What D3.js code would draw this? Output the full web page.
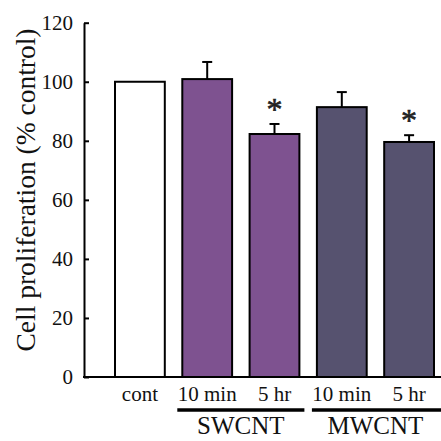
<!DOCTYPE html>
<html>
<head>
<meta charset="utf-8">
<script src="https://cdn.jsdelivr.net/npm/d3@7"></script>
<style>
  html, body { margin: 0; padding: 0; background: #fff; }
  svg { display: block; font-family: "Liberation Serif", "Times New Roman", serif; }
</style>
</head>
<body>
<div id="chart"></div>
<script>
// --- data -------------------------------------------------------------
var categories = ["cont", "sw10", "sw5", "mw10", "mw5"];
var tickNames  = ["cont", "10 min", "5 hr", "10 min", "5 hr"];
var groups     = ["ctrl", "SWCNT", "SWCNT", "MWCNT", "MWCNT"];
var values     = [100, 100.9, 82.3, 91.4, 79.6];
var errors     = [0, 5.8, 3.4, 5.1, 2.3];
var signif     = [false, false, true, false, true];
var yTicks     = [0, 20, 40, 60, 80, 100, 120];
var groupNames = ["SWCNT", "MWCNT"];

var W = 441, H = 441;
var FILL = { ctrl: "#ffffff", SWCNT: "#7e5290", MWCNT: "#56526f" };

var svg = d3.select("#chart").append("svg").attr("width", W).attr("height", H);

// --- scales -----------------------------------------------------------
var axisX = 84, baseY = 377, topY = 22.7;
var y = d3.scaleLinear().domain([0, 120]).range([baseY, topY]);
var x = d3.scaleBand().domain(categories).range([115, 434])
  .paddingInner(0.26).paddingOuter(0);

// --- axes -------------------------------------------------------------
var ya = svg.append("g").attr("transform", "translate(" + axisX + ",0)")
  .call(d3.axisLeft(y).tickValues(yTicks).tickSizeInner(-5).tickSizeOuter(0).tickPadding(11))
  .attr("font-family", null).attr("font-size", null);
ya.select(".domain").attr("stroke", "#000").attr("stroke-width", 2);
ya.selectAll(".tick line").attr("stroke", "#000").attr("stroke-width", 2);
ya.selectAll(".tick text").attr("fill", "#111")
  .style("font-family", "'Liberation Serif', serif")
  .style("font-size", "21px");

svg.append("line").attr("x1", axisX - 1).attr("x2", W)
  .attr("y1", baseY).attr("y2", baseY)
  .attr("stroke", "#000").attr("stroke-width", 2);

svg.append("text")
  .attr("transform", "translate(35," + 190 + ") rotate(-90)")
  .attr("text-anchor", "middle")
  .style("font-size", "27.5px").attr("fill", "#111")
  .text("Cell proliferation (% control)");

// --- bars -------------------------------------------------------------
var idx = d3.range(categories.length);
var bw = x.bandwidth();

svg.selectAll(".bar").data(idx).enter().append("rect")
  .attr("class", "bar")
  .attr("x", function (i) { return x(categories[i]); })
  .attr("width", bw)
  .attr("y", function (i) { return y(values[i]); })
  .attr("height", function (i) { return baseY - y(values[i]); })
  .attr("fill", function (i) { return FILL[groups[i]]; })
  .attr("stroke", "#000").attr("stroke-width", 2);

// error bars (upper only)
var eb = svg.selectAll(".err").data(idx.filter(function (i) { return errors[i] > 0; }))
  .enter().append("g").attr("class", "err")
  .attr("stroke", "#000").attr("stroke-width", 2);
eb.append("line")
  .attr("x1", function (i) { return x(categories[i]) + bw / 2; })
  .attr("x2", function (i) { return x(categories[i]) + bw / 2; })
  .attr("y1", function (i) { return y(values[i]); })
  .attr("y2", function (i) { return y(values[i] + errors[i]); });
eb.append("line")
  .attr("x1", function (i) { return x(categories[i]) + bw / 2 - 5; })
  .attr("x2", function (i) { return x(categories[i]) + bw / 2 + 5; })
  .attr("y1", function (i) { return y(values[i] + errors[i]); })
  .attr("y2", function (i) { return y(values[i] + errors[i]); });

// significance stars
svg.selectAll(".star").data(idx.filter(function (i) { return signif[i]; }))
  .enter().append("text").attr("class", "star")
  .attr("x", function (i) { return x(categories[i]) + bw / 2; })
  .attr("y", function (i) { return y(values[i] + errors[i]) - 4; })
  .attr("text-anchor", "middle")
  .style("font-size", "32px").attr("fill", "#222")
  .attr("stroke", "#222").attr("stroke-width", 0.6)
  .text("*");

// --- category labels --------------------------------------------------
svg.selectAll(".cat").data(idx).enter().append("text")
  .attr("class", "cat")
  .attr("x", function (i) { return x(categories[i]) + bw / 2; })
  .attr("y", 401)
  .attr("text-anchor", "middle")
  .style("font-size", "21px").attr("fill", "#111")
  .text(function (i) { return tickNames[i]; });

// group underline + name
groupNames.forEach(function (gname, k) {
  var members = idx.filter(function (i) { return groups[i] === gname; });
  var x0 = x(categories[members[0]]) - 5;
  var x1 = x(categories[members[members.length - 1]]) + bw + 5;
  if (k === groupNames.length - 1) x1 = W;
  svg.append("line").attr("x1", x0).attr("x2", x1)
    .attr("y1", 410).attr("y2", 410)
    .attr("stroke", "#000").attr("stroke-width", 3.5);
  svg.append("text")
    .attr("x", (x(categories[members[0]]) + x(categories[members[members.length - 1]]) + bw) / 2)
    .attr("y", 434).attr("text-anchor", "middle")
    .style("font-size", "25px").attr("fill", "#111")
    .text(gname);
});
</script>
</body>
</html>
